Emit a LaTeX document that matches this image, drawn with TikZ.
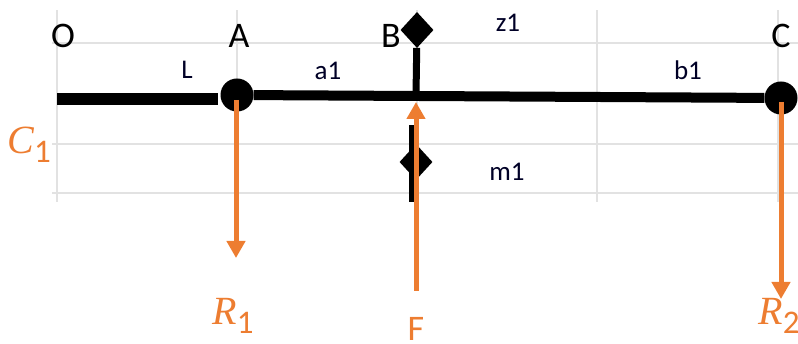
\documentclass[tikz,border=0pt]{standalone}
\usepackage{fontspec}
\setmainfont{Carlito}
\newfontfamily\symfont{Liberation Serif}
\usetikzlibrary{arrows.meta,shapes.geometric}
\definecolor{loadorange}{HTML}{ED7D31}
\definecolor{gridgrey}{HTML}{E2E2E2}
\newcommand{\biglabel}{\fontsize{36}{36}\selectfont}
\newcommand{\smalllabel}{\fontsize{27}{27}\selectfont}
\newcommand{\loadsym}[2]{{\symfont\fontsize{40}{40}\selectfont\textit{#1}}\raisebox{-9pt}{\fontsize{33}{33}\selectfont #2}}
\tikzset{
    gridline/.style={draw=gridgrey, line width=1.6pt},
    beam/.style={line width=#1, black},
    joint/.style={circle, fill=black, inner sep=0pt, minimum size=33pt},
    stud/.style={diamond, fill=black, inner sep=0pt, minimum width=33pt, minimum height=36pt},
    loadarrow/.style={draw=loadorange, line width=5pt, -{Triangle[length=17pt,width=18pt]}},
    loadtext/.style={text=loadorange, inner sep=0pt},
    pointlabel/.style={inner sep=0pt, font=\biglabel},
    sizelabel/.style={inner sep=0pt, font=\smalllabel, text=black!85!blue}
}
\begin{document}
\begin{tikzpicture}[x=1pt,y=-1pt]
    \useasboundingbox (0,0) rectangle (798,344);
    % grid
    \foreach \gx in {57,237,417,597,778} {
        \draw [gridline] (\gx,10) -- (\gx,202);
    }
    \foreach \gy in {43,144,193} {
        \draw [gridline] (52,\gy) -- (798,\gy);
    }
    % beam
    \node [joint] (pa) at (237,95) {};
    \node [joint] (pc) at (781,98) {};
    \node [stud] (s1) at (417,30) {};
    \node [stud] (s2) at (416,162) {};
    \coordinate (p0) at (57,99);
    \coordinate (p1) at (218,99);
    \coordinate (pb) at (416,95);
    \coordinate (s3) at (412,202);
    \coordinate (s4) at (412,125);
    \draw [beam=12pt] (p0) -- (p1);
    \draw [beam=10pt] (pa) -- (pc);
    \draw [beam=7pt] (pb) -- (s1);
    \draw [beam=6pt] (s3) -- (s4);
    % loads
    \coordinate (r1a) at (236,100);
    \coordinate (r1b) at (236,258);
    \coordinate (fa) at (416,291);
    \coordinate (fb) at (416,102);
    \coordinate (r2a) at (781,102);
    \coordinate (r2b) at (781,299);
    \draw [loadarrow] (r1a) -- (r1b);
    \draw [loadarrow] (fa) -- (fb);
    \draw [loadarrow] (r2a) -- (r2b);
    % labels
    \node [pointlabel] (lo) at (63,36) {O};
    \node [pointlabel] (la) at (239,36) {A};
    \node [pointlabel] (lb) at (391,36) {B};
    \node [pointlabel] (lc) at (781,36) {C};
    \node [sizelabel] (ll) at (187,70) {L};
    \node [sizelabel] (la1) at (328,71) {a1};
    \node [sizelabel] (lb1) at (688,70) {b1};
    \node [sizelabel] (lz1) at (508,23) {z1};
    \node [sizelabel] (lm1) at (507,172) {m1};
    \node [loadtext] (lc1) at (29,145) {\loadsym{C}{1}};
    \node [loadtext] (lr1) at (233,316) {\loadsym{R}{1}};
    \node [loadtext] (lr2) at (779,316) {\loadsym{R}{2}};
    \node [loadtext, font=\biglabel] (lf) at (416,329) {F};
\end{tikzpicture}
\end{document}
